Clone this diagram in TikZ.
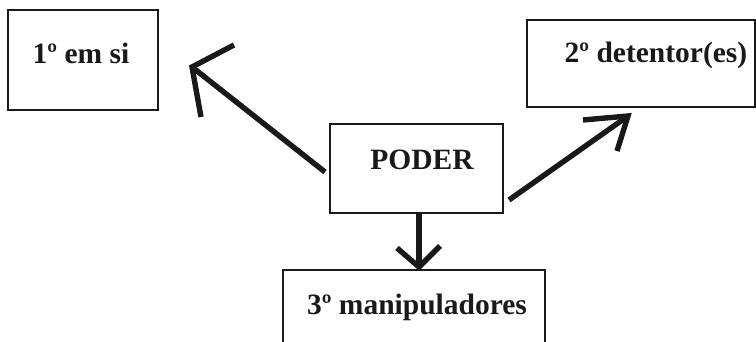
\documentclass[tikz,border=0pt]{standalone}
\usepackage{fontspec}
\setmainfont{Liberation Serif}
\begin{document}
\begin{tikzpicture}[x=1pt,y=-1pt,
  box/.style={draw=black!90,line width=2pt,inner sep=0pt,minimum width=#1},
  lbl/.style={font=\fontsize{29.5}{32}\selectfont\bfseries,inner sep=0pt,anchor=base,text=black!90},
  arr/.style={line width=5.4pt,draw=black!90,line join=miter}]
\useasboundingbox (0,0) rectangle (756,342);
\node[box=150pt,minimum height=100pt] (b1) at (83,60) {};
\node[box=228pt,minimum height=87pt] (b2) at (641,63.5) {};
\node[box=173pt,minimum height=89pt] (b0) at (416.5,168.5) {};
\node[box=262pt,minimum height=90pt] (b3) at (414,315) {};
\node[lbl] (t1) at (81,64) {1º em si};
\node[lbl] (t2) at (656,63) {2º detentor(es)};
\node[lbl] (t0) at (422,170) {PODER};
\node[lbl] (t3) at (417,314) {3º manipuladores};
% arrow 1
\coordinate (a1s) at (325,172);
\coordinate (a1t) at (192,67);
\coordinate (a1h1) at (234,45);
\coordinate (a1h2) at (201,117);
\draw[arr] (a1s) -- (a1t);
\draw[arr] (a1h1) -- (a1t) -- (a1h2);
% arrow 2
\coordinate (a2s) at (509,200);
\coordinate (a2t) at (628,116);
\coordinate (a2h1) at (583,120);
\coordinate (a2h2) at (617,151);
\draw[arr] (a2s) -- (a2t);
\draw[arr] (a2h1) -- (a2t) -- (a2h2);
% arrow 3
\coordinate (a3s) at (419,214);
\coordinate (a3t) at (419,267);
\coordinate (a3h1) at (397,248);
\coordinate (a3h2) at (440,246);
\draw[arr] (a3s) -- (a3t);
\draw[arr] (a3h1) -- (a3t) -- (a3h2);
\end{tikzpicture}
\end{document}
